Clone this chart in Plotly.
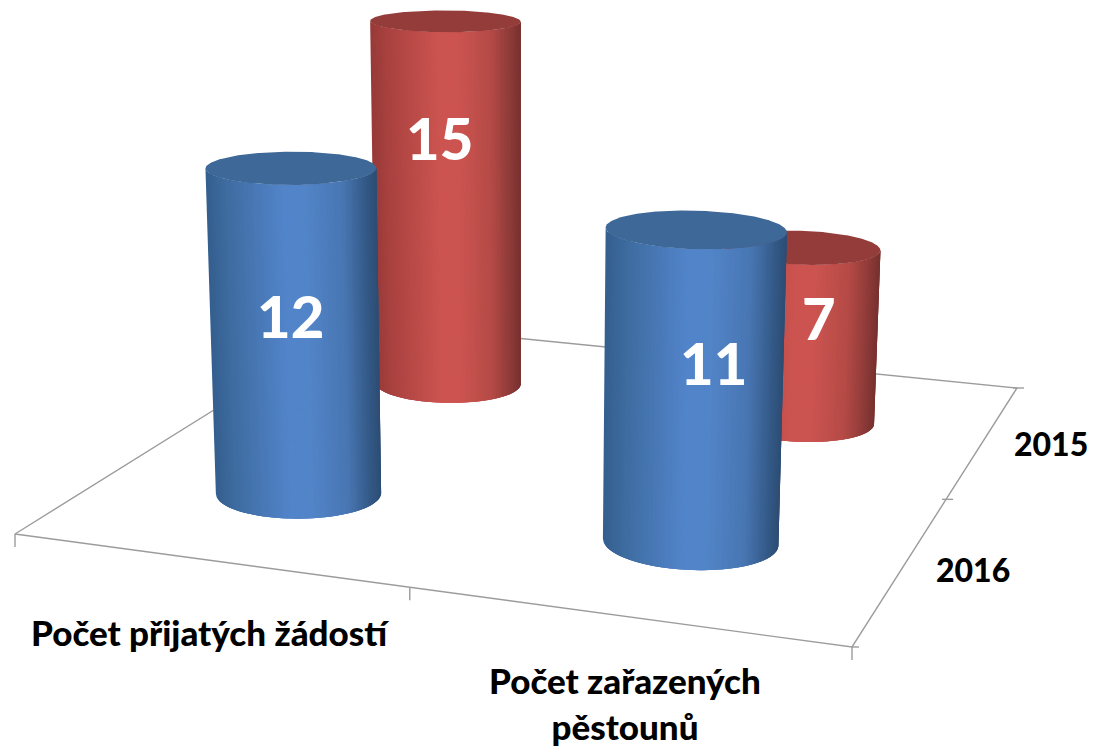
import numpy as np
import plotly.graph_objects as go

# ---- data ----
categories = ["Počet přijatých žádostí", "Počet zařazených<br>pěstounů"]
series_names = ["2016", "2015"]
values_2016 = [12, 11]
values_2015 = [15, 7]

# ---- view of the 3D box (pixel positions of the floor corners) ----
W, H = 1093, 747
FLOOR = [(15, 534), (852, 647), (1017, 388), (355, 322)]  # front-left, front-right, back-right, back-left
VP_Z = (520.0, 10000.0)   # vanishing point of verticals
W_Z = -0.00288            # perspective change per value unit
R_S, R_T = 0.1025, 0.0935 # cylinder radius on the floor (fractions of the floor)


def floor_matrix(c):
    (x0, y0), (x1, y1), (x2, y2), (x3, y3) = c
    dx1, dx2, sx = x1 - x2, x3 - x2, x0 - x1 + x2 - x3
    dy1, dy2, sy = y1 - y2, y3 - y2, y0 - y1 + y2 - y3
    den = dx1 * dy2 - dx2 * dy1
    g = (sx * dy2 - dx2 * sy) / den
    h = (dx1 * sy - sx * dy1) / den
    return np.array([[x1 - x0 + g * x1, x3 - x0 + h * x3, x0],
                     [y1 - y0 + g * y1, y3 - y0 + h * y3, y0],
                     [g, h, 1.0]])


M = floor_matrix(FLOOR)


def project(s, t, z=0.0):
    s, t, z = np.asarray(s, float), np.asarray(t, float), np.asarray(z, float)
    xh = M[0, 0] * s + M[0, 1] * t + M[0, 2]
    yh = M[1, 0] * s + M[1, 1] * t + M[1, 2]
    w = M[2, 0] * s + M[2, 1] * t + M[2, 2]
    xh = xh + z * VP_Z[0] * W_Z
    yh = yh + z * VP_Z[1] * W_Z
    w = w + z * W_Z
    return xh / w, yh / w


def hex_mix(stops, u):
    pos = [p for p, _ in stops]
    r = np.interp(u, pos, [c[0] for _, c in stops])
    g = np.interp(u, pos, [c[1] for _, c in stops])
    b = np.interp(u, pos, [c[2] for _, c in stops])
    return f"rgb({r:.0f},{g:.0f},{b:.0f})"


BLUE = dict(side=[(0, (52, 94, 142)), (0.12, (62, 108, 160)), (0.45, (82, 132, 202)), (0.58, (82, 132, 200)),
                  (0.8, (72, 118, 178)), (0.93, (52, 90, 136)), (1, (44, 76, 114))],
            cap=[(0, (60, 102, 150)), (0.5, (62, 104, 152)), (1, (54, 92, 136))])
RED = dict(side=[(0, (150, 58, 56)), (0.12, (170, 66, 64)), (0.45, (204, 84, 80)), (0.58, (204, 84, 80)),
                 (0.8, (180, 74, 70)), (0.93, (140, 58, 56)), (1, (118, 48, 46))],
           cap=[(0, (146, 60, 58)), (0.5, (148, 60, 58)), (1, (132, 54, 52))])

fig = go.Figure()


def poly(xs, ys, color):
    fig.add_trace(go.Scatter(x=xs, y=ys, mode="lines", fill="toself", fillcolor=color,
                             line=dict(color=color, width=0), hoverinfo="skip", showlegend=False))


def grid(xs, ys):
    fig.add_trace(go.Scatter(x=xs, y=ys, mode="lines", line=dict(color="#9c9c9c", width=1.4),
                             hoverinfo="skip", showlegend=False))


def cylinder(s0, t0, value, pal):
    th = np.linspace(0, 2 * np.pi, 361)[:-1]
    cs, ct = s0 + R_S * np.cos(th), t0 + R_T * np.sin(th)
    bx, by = project(cs, ct, 0.0)
    tx, ty = project(cs, ct, value)
    il, ir = int(np.argmin(bx)), int(np.argmax(bx))
    # walk from the left silhouette to the right one along the front of the circle
    n = len(th)
    arc = [il]
    step = 1 if by[(il + 1) % n] > by[(il - 1) % n] else -1
    while arc[-1] != ir:
        arc.append((arc[-1] + step) % n)
    arc = np.array(arc)
    # short overlapping bands, each overpainting the tail of the one before: no seams
    edges = np.linspace(bx[il], bx[ir], 91)
    arc_x = bx[arc]
    for i in range(90):
        a = np.searchsorted(arc_x, edges[i])
        b = np.searchsorted(arc_x, edges[min(i + 3, 90)])
        pick = arc[a:b + 1]
        if len(pick) < 2:
            continue
        xs = list(bx[pick]) + list(tx[pick][::-1])
        ys = list(by[pick]) + list(ty[pick][::-1])
        u = (edges[i] + 0.5 * (edges[1] - edges[0]) - bx[il]) / (bx[ir] - bx[il])
        poly(xs, ys, hex_mix(pal["side"], u))
    poly(list(tx), list(ty), hex_mix(pal["cap"], 0.5))


# floor and ticks
S = [0, 1, 1, 0, 0]
T = [0, 0, 1, 1, 0]
fx, fy = project(S, T)
grid(list(fx[[3, 0, 1, 2, 3]]), list(fy[[3, 0, 1, 2, 3]]))
for s in (0, 0.5, 1):
    x, y = project(s, 0)
    grid([float(x), float(x)], [float(y), float(y) + 13])
for t in (0, 0.5, 1):
    x, y = project(1, t)
    grid([float(x) - 4 if t else float(x), float(x) + 7], [float(y), float(y)])

# cylinders, far row first: position on the floor comes from category and series index
rows = [(1, values_2015, RED), (0, values_2016, BLUE)]
for r, vals, pal in rows:
    for c, v in enumerate(vals):
        cylinder((c + 0.5) / 2, (r + 0.5) / 2, v, pal)

# value labels
LABEL_OFFSET = {(0, 0): (-4, -17), (1, 0): (20, -25), (0, 1): (-7, -68), (1, 1): (20, -17)}
for r, vals, pal in rows:
    for c, v in enumerate(vals):
        x, y = project((c + 0.5) / 2, (r + 0.5) / 2, v / 2)
        dx, dy = LABEL_OFFSET[(c, r)]
        fig.add_annotation(x=float(x), y=float(y), xshift=dx, yshift=-dy, text=str(v), showarrow=False,
                           font=dict(family="Lato", size=58, color="white", weight=900))

# axis labels
CAT_FONT = dict(family="Lato", size=35, color="black", weight=900)
SER_FONT = dict(family="Lato", size=32, color="black", weight=900)
fig.add_annotation(x=210, y=632, text=categories[0], showarrow=False, font=CAT_FONT)
fig.add_annotation(x=625, y=703, text=categories[1], showarrow=False, font=CAT_FONT, align="center")
fig.add_annotation(x=973, y=569, text=series_names[0], showarrow=False, font=SER_FONT)
fig.add_annotation(x=1051, y=443, text=series_names[1], showarrow=False, font=SER_FONT)

fig.update_layout(width=W, height=H, margin=dict(l=0, r=0, t=0, b=0), paper_bgcolor="white",
                  plot_bgcolor="white", showlegend=False,
                  xaxis=dict(range=[0, W], visible=False, fixedrange=True),
                  yaxis=dict(range=[H, 0], visible=False, fixedrange=True))
fig.write_html("out.html", config=dict(displayModeBar=False),
               post_script="document.body.style.margin='0';document.documentElement.style.overflow='hidden';")
